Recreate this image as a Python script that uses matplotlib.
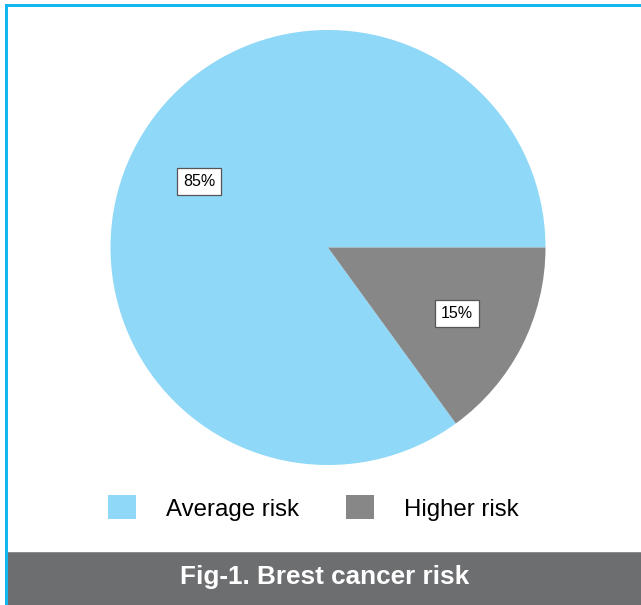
import matplotlib
matplotlib.use("Agg")
import matplotlib.pyplot as plt
from matplotlib.patches import Rectangle

plt.rcParams['font.family'] = ['Liberation Sans', 'DejaVu Sans']

categories = ["Average risk", "Higher risk"]
values = [85, 15]
colors = ["#8fd8f7", "#878787"]
title = "Fig-1. Brest cancer risk"

W, H = 641, 605
fig = plt.figure(figsize=(W / 100, H / 100), dpi=100)
fig.patch.set_facecolor("white")

# pie axes placed in pixel coordinates
cx, cy, r = 328, 247.5, 217.5
ax = fig.add_axes([(cx - r) / W, (H - cy - r) / H, 2 * r / W, 2 * r / H])
wedges, texts, autotexts = ax.pie(
    values, colors=colors, startangle=0, counterclock=True,
    autopct=lambda p: f"{p:.0f}%", pctdistance=0.665,
    wedgeprops=dict(linewidth=0),
    textprops=dict(fontsize=11.5, color="black"),
)
for t in autotexts:
    t.set_bbox(dict(boxstyle="square,pad=0.38", facecolor="white",
                    edgecolor="#555555", linewidth=0.9))
ax.set_xlim(-1, 1)
ax.set_ylim(-1, 1)
ax.set_aspect("equal")
ax.axis("off")

# legend
fs = 17.3
fig.legend(wedges, categories, loc="center",
           bbox_to_anchor=(313.5 / W, 1 - 508 / H), ncol=2, frameon=False,
           fontsize=fs, handlelength=1.165, handleheight=1.165,
           handletextpad=1.25, columnspacing=1.96, borderpad=0,
           borderaxespad=0)

# bottom banner
fig.patches.append(Rectangle((7 / W, 0), 1 - 7 / W, (H - 552) / H,
                             transform=fig.transFigure, facecolor="#6d6e70",
                             edgecolor="none", zorder=0))
fig.patches.append(Rectangle((7 / W, (H - 553) / H), 1 - 7 / W, 1 / H,
                             transform=fig.transFigure, facecolor="#8c8d8f",
                             edgecolor="none", zorder=0))
fig.text(325 / W, 1 - 577 / H, title, color="white", fontsize=18.8,
         fontweight="bold", ha="center", va="center")

# blue frame (top and left)
blue = "#12b6f0"
fig.patches.append(Rectangle((5 / W, 1 - 7 / H), 1 - 5 / W, 3 / H,
                             transform=fig.transFigure, facecolor=blue,
                             edgecolor="none", zorder=1))
fig.patches.append(Rectangle((5 / W, 0), 3 / W, 1 - 4 / H,
                             transform=fig.transFigure, facecolor=blue,
                             edgecolor="none", zorder=1))

fig.savefig("out.png", dpi=100, facecolor="white")
